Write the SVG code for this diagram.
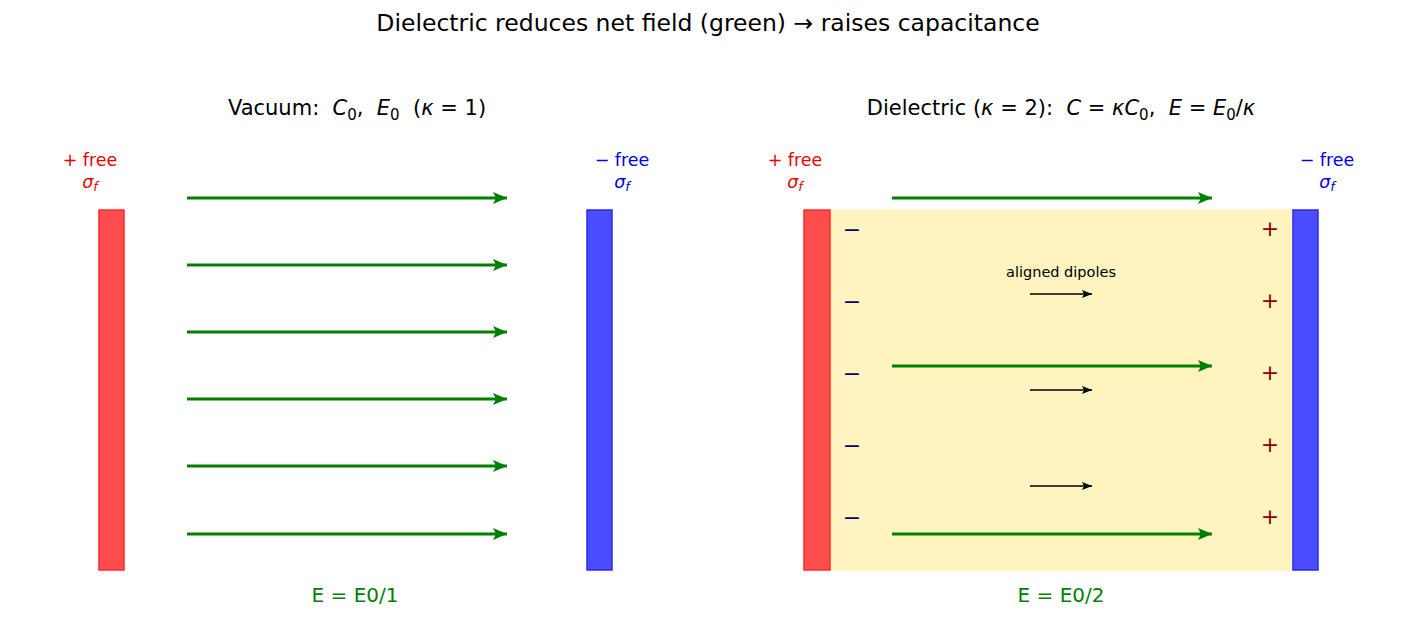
<svg xmlns="http://www.w3.org/2000/svg" width="1417" height="643" viewBox="0 0 1417 643">
<defs>
<marker id="ga" viewBox="0 0 14 12" refX="14" refY="6" markerWidth="14" markerHeight="12" markerUnits="userSpaceOnUse" orient="auto"><path d="M0,0 L14,6 L0,12 L3,6 Z" fill="#008000"/></marker>
<marker id="ka" viewBox="0 0 10 8" refX="10" refY="4" markerWidth="10" markerHeight="8" markerUnits="userSpaceOnUse" orient="auto"><path d="M0,0 L10,4 L0,8 L2,4 Z" fill="#000"/></marker>
<style>
text{font-family:"DejaVu Sans","Liberation Sans",sans-serif;white-space:pre}
.t{font-size:23.5px;fill:#000;text-anchor:middle}
.s{font-size:21px;fill:#000;text-anchor:middle}
.lab{font-size:17.5px;text-anchor:middle}
.i{font-style:italic}
.f{stroke:#008000;stroke-width:3;fill:none;marker-end:url(#ga)}
.d{stroke:#000;stroke-width:1.5;fill:none;marker-end:url(#ka)}
.pos{fill:#ff4c4c;stroke:#ff2a2a;stroke-width:1.5}
.neg{fill:#4c4cff;stroke:#2a2aee;stroke-width:1.5}
.mn{font-size:22px;fill:#000080;text-anchor:middle}
.pl{font-size:22px;fill:#8b0000;text-anchor:middle}
.e{font-size:20px;fill:#008000;text-anchor:middle}
</style>
</defs>
<rect width="1417" height="643" fill="#fff"/>
<text class="t" x="708" y="31">Dielectric reduces net field (green) → raises capacitance</text>
<text class="s" x="357" y="115" xml:space="preserve">Vacuum:  <tspan class="i">C</tspan><tspan font-size="15" dy="5">0</tspan><tspan dy="-5">,  </tspan><tspan class="i">E</tspan><tspan font-size="15" dy="5">0</tspan><tspan dy="-5">  (</tspan><tspan class="i">κ</tspan> = 1)</text>
<text class="s" x="1061" y="115" xml:space="preserve">Dielectric (<tspan class="i">κ</tspan> = 2):  <tspan class="i">C</tspan> = <tspan class="i">κC</tspan><tspan font-size="15" dy="5">0</tspan><tspan dy="-5">,  </tspan><tspan class="i">E</tspan> = <tspan class="i">E</tspan><tspan font-size="15" dy="5">0</tspan><tspan dy="-5">/</tspan><tspan class="i">κ</tspan></text>

<g id="vacuum-pos-plate">
<rect class="pos" x="99" y="210" width="25" height="360"/>
<text class="lab" x="90" y="166" fill="#ee0000">+ free</text>
<text class="lab i" x="90" y="188" fill="#ee0000">σ<tspan font-size="13" dy="3">f</tspan></text>
</g>
<g id="vacuum-neg-plate">
<rect class="neg" x="587" y="210" width="25" height="360"/>
<text class="lab" x="622" y="166" fill="#0000ee">− free</text>
<text class="lab i" x="622" y="188" fill="#0000ee">σ<tspan font-size="13" dy="3">f</tspan></text>
</g>
<g id="dielectric-slab">
<rect x="830" y="210" width="463" height="360" fill="#fff3c0" stroke="#fff0b0" stroke-width="1"/>
<text class="mn" x="852" y="237">−</text>
<text class="mn" x="852" y="309">−</text>
<text class="mn" x="852" y="381">−</text>
<text class="mn" x="852" y="453">−</text>
<text class="mn" x="852" y="525">−</text>
<text class="pl" x="1270" y="236">+</text>
<text class="pl" x="1270" y="308">+</text>
<text class="pl" x="1270" y="380">+</text>
<text class="pl" x="1270" y="452">+</text>
<text class="pl" x="1270" y="524">+</text>
<text x="1061" y="277" font-size="14.5" text-anchor="middle" fill="#000">aligned dipoles</text>
</g>
<g id="dielectric-pos-plate">
<rect class="pos" x="804" y="210" width="26" height="360"/>
<text class="lab" x="795" y="166" fill="#ee0000">+ free</text>
<text class="lab i" x="795" y="188" fill="#ee0000">σ<tspan font-size="13" dy="3">f</tspan></text>
</g>
<g id="dielectric-neg-plate">
<rect class="neg" x="1293" y="210" width="25" height="360"/>
<text class="lab" x="1327" y="166" fill="#0000ee">− free</text>
<text class="lab i" x="1327" y="188" fill="#0000ee">σ<tspan font-size="13" dy="3">f</tspan></text>
</g>

<g id="connectors">
<line class="f" x1="187" y1="198" x2="507" y2="198"/>
<line class="f" x1="187" y1="265" x2="507" y2="265"/>
<line class="f" x1="187" y1="332" x2="507" y2="332"/>
<line class="f" x1="187" y1="399" x2="507" y2="399"/>
<line class="f" x1="187" y1="466" x2="507" y2="466"/>
<line class="f" x1="187" y1="534" x2="507" y2="534"/>
<line class="f" x1="892" y1="198" x2="1212" y2="198"/>
<line class="f" x1="892" y1="366" x2="1212" y2="366"/>
<line class="f" x1="892" y1="534" x2="1212" y2="534"/>
<line class="d" x1="1030" y1="294" x2="1092" y2="294"/>
<line class="d" x1="1030" y1="390" x2="1092" y2="390"/>
<line class="d" x1="1030" y1="486" x2="1092" y2="486"/>
</g>

<text class="e" x="355" y="602">E = E0/1</text>
<text class="e" x="1061" y="602">E = E0/2</text>
</svg>
